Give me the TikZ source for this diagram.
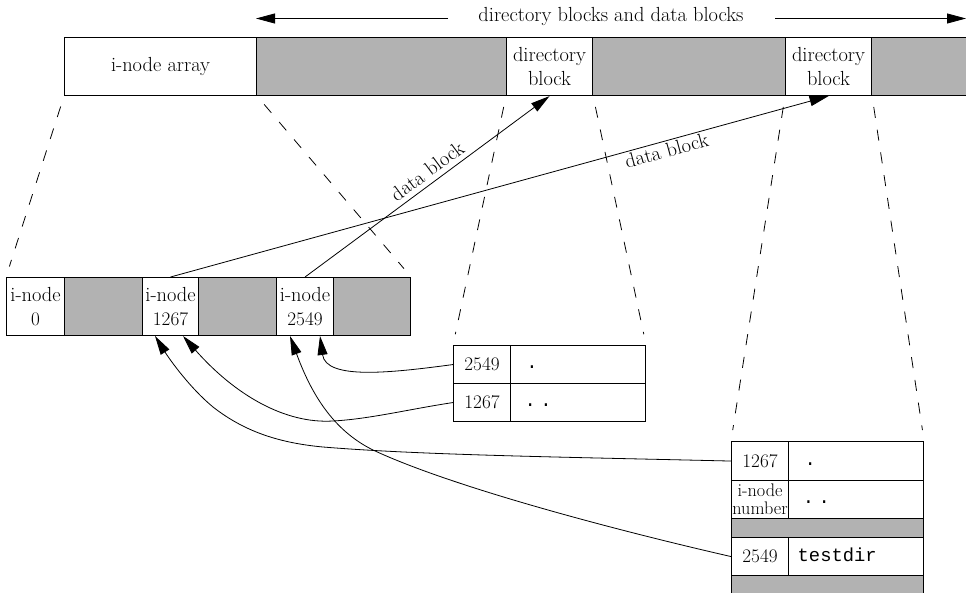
\documentclass[tikz,border=0pt]{standalone}
\usepackage{fontspec}
\newfontfamily\cour{Liberation Mono}
\usetikzlibrary{arrows.meta}
\definecolor{cellgray}{gray}{0.7}
\newcommand{\mainsz}{\fontsize{20.4}{23.5}\selectfont}
\newcommand{\numsz}{\fontsize{19.2}{23.5}\selectfont}
\newcommand{\smallsz}{\fontsize{18.2}{18}\selectfont}
\newcommand{\ttsz}{\fontsize{18.8}{22}\selectfont\cour}
\begin{document}
\begin{tikzpicture}[x=1pt,y=-1pt,
  box/.style={draw, line width=1.1pt, inner sep=0pt, anchor=north west, font=\mainsz, align=center},
  whitebox/.style={box, fill=white},
  numbox/.style={whitebox, font=\numsz},
  graybox/.style={box, fill=cellgray},
  dashline/.style={line width=0.8pt, dash pattern=on 11pt off 12pt, shorten >=11pt, shorten <=11pt},
  link/.style={line width=0.8pt, -{Triangle[length=19pt,width=10pt]}},
  lbl/.style={font=\mainsz, inner sep=0pt},
  ttl/.style={font=\ttsz, inner sep=0pt, anchor=base west},
]
\clip (0,0) rectangle (966,593);
% top bar
\node[whitebox, minimum width=192pt, minimum height=58pt] (ia) at (64,37) {i-node array};
\node[graybox, minimum width=250pt, minimum height=58pt] (g1) at (256,37) {};
\node[whitebox, minimum width=86pt, minimum height=58pt] (db1) at (506,37) {directory\\block};
\node[graybox, minimum width=193pt, minimum height=58pt] (g2) at (592,37) {};
\node[whitebox, minimum width=86pt, minimum height=58pt] (db2) at (785,37) {directory\\block};
\node[graybox, minimum width=130pt, minimum height=58pt] (g3) at (871,37) {};
% top label and arrows
\node[lbl, anchor=base] (top) at (611,21.5) {directory blocks and data blocks};
\coordinate (la0) at (448,18.5);
\coordinate (la1) at (256,18.5);
\coordinate (ra0) at (775,18.5);
\coordinate (ra1) at (966,18.5);
\draw[link] (la0) -- (la1);
\draw[link] (ra0) -- (ra1);
% i-node row
\node[whitebox, minimum width=58pt, minimum height=58pt] (n0) at (6,277) {i-node\\{\numsz 0}};
\node[graybox, minimum width=78pt, minimum height=58pt] (r1) at (64,277) {};
\node[whitebox, minimum width=56pt, minimum height=58pt] (n1267) at (142,277) {i-node\\{\numsz 1267}};
\node[graybox, minimum width=78pt, minimum height=58pt] (r2) at (198,277) {};
\node[whitebox, minimum width=57pt, minimum height=58pt] (n2549) at (276,277) {i-node\\{\numsz 2549}};
\node[graybox, minimum width=77pt, minimum height=58pt] (r3) at (333,277) {};
% small directory table
\node[numbox, minimum width=57pt, minimum height=38pt] (s1a) at (453,345) {2549};
\node[whitebox, minimum width=135pt, minimum height=38pt] (s1b) at (510,345) {};
\node[numbox, minimum width=57pt, minimum height=38pt] (s2a) at (453,383) {1267};
\node[whitebox, minimum width=135pt, minimum height=38pt] (s2b) at (510,383) {};
\node[ttl] (dot1) at (526.1,368) {.};
\node[ttl] (dot2) at (524.4,406) {.\kern4.5pt.};
% big directory table
\node[numbox, minimum width=57pt, minimum height=39pt] (b1a) at (731,441) {1267};
\node[whitebox, minimum width=135pt, minimum height=39pt] (b1b) at (788,441) {};
\node[whitebox, font=\smallsz, minimum width=57pt, minimum height=38pt] (b2a) at (731,480) {i-node\\number};
\node[whitebox, minimum width=135pt, minimum height=38pt] (b2b) at (788,480) {};
\node[graybox, minimum width=192pt, minimum height=19pt] (bg1) at (731,518) {};
\node[numbox, minimum width=57pt, minimum height=38pt] (b4a) at (731,537) {2549};
\node[whitebox, minimum width=135pt, minimum height=38pt] (b4b) at (788,537) {};
\node[graybox, minimum width=192pt, minimum height=40pt] (bg2) at (731,575) {};
\node[ttl] (dot3) at (804.4,465) {.};
\node[ttl] (dot4) at (802.7,503) {.\kern4.5pt.};
\node[ttl] (td) at (797.5,561) {testdir};
% dashed projection lines
\draw[dashline] (ia.south west) -- (n0.north west);
\draw[dashline] (ia.south east) -- (r3.north east);
\draw[dashline] (db1.south west) -- (s1a.north west);
\draw[dashline] (db1.south east) -- (s1b.north east);
\draw[dashline] (db2.south west) -- (b1a.north west);
\draw[dashline] (db2.south east) -- (b1b.north east);
% data block pointers
\draw[link] (n2549.north) -- node[lbl, sloped, above, pos=0.53, inner sep=5pt] {data block} (db1.south);
\draw[link] (n1267.north) -- node[lbl, sloped, below, pos=0.75, inner sep=2pt] {data block} (db2.south);
% i-node number pointers
\coordinate (tA) at (155,336);
\coordinate (tB) at (183,336);
\coordinate (tC) at (290,336);
\coordinate (tD) at (320,336);
\draw[link] (b1a.west) .. controls (560,457) and (420,455) .. (323,447)
  .. controls (280,443) and (245,432) .. (213,407)
  .. controls (190,388) and (170,360) .. (tA);
\draw[link] (s2a.west) .. controls (410,409) and (370,419) .. (333,421)
  .. controls (285,424) and (235,395) .. (tB);
\draw[link] (b4a.west) .. controls (623.5,532) and (454,488) .. (373,450)
  .. controls (332.5,430) and (311,393) .. (tC);
\draw[link] (s1a.west) .. controls (390,373) and (326,380) .. (tD);
\end{tikzpicture}
\end{document}
